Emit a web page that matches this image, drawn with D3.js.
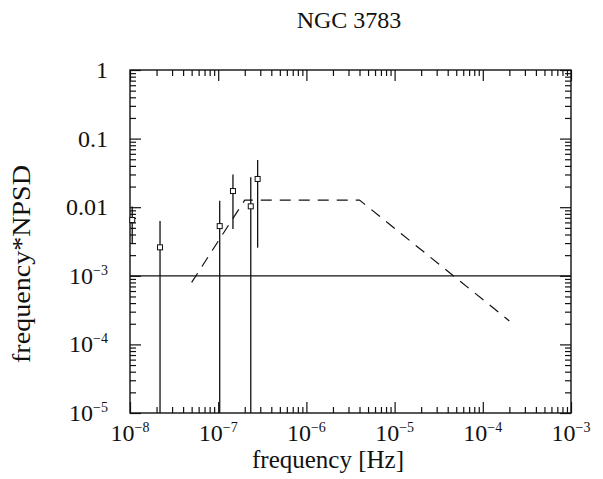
<!DOCTYPE html>
<html>
<head>
<meta charset="utf-8">
<script src="https://cdn.jsdelivr.net/npm/d3@7"></script>
<style>
  body { margin: 0; background: #fff; }
  text { font-family: "Liberation Serif", "DejaVu Serif", serif; fill: #111; }
</style>
</head>
<body>
<div id="viz"></div>
<script>

// data
const freq = [1.06e-8, 2.19e-8, 1.04e-7, 1.47e-7, 2.34e-7, 2.8e-7]
const npsd = [6.5e-3, 2.6e-3, 5.3e-3, 1.72e-2, 1.03e-2, 2.58e-2]
const errHi = [1.02e-2, 6.3e-3, 1.24e-2, 3.0e-2, 2.73e-2, 4.88e-2]
const errLo = [3.0e-3, 1e-6, 1e-6, 4.8e-3, 1e-6, 2.57e-3]   // 1e-6 = off the bottom of the plot

const modelFreq = [5.0e-8, 2.0e-7, 4.0e-6, 2.0e-4]
const modelNpsd = [8.0e-4, 1.27e-2, 1.27e-2, 2.2e-4]

const refLevel = 1e-3

const xTicks = [1e-8, 1e-7, 1e-6, 1e-5, 1e-4, 1e-3]
const xTickLabels = [["10", "−8"], ["10", "−7"], ["10", "−6"], ["10", "−5"], ["10", "−4"], ["10", "−3"]]
const yTicks = [1, 0.1, 0.01, 1e-3, 1e-4, 1e-5]
const yTickLabels = [["1", ""], ["0.1", ""], ["0.01", ""], ["10", "−3"], ["10", "−4"], ["10", "−5"]]

const width = 603
const height = 479
const margin = {top: 70, right: 32, bottom: 66, left: 130}
const w = width - margin.left - margin.right
const h = height - margin.top - margin.bottom

const svg = d3.select("#viz").append("svg")
  .attr("width", width)
  .attr("height", height)

const x = d3.scaleLog().domain([1e-8, 1e-3]).range([0, w])
const y = d3.scaleLog().domain([1e-5, 1]).range([h, 0])

const g = svg.append("g").attr("transform", `translate(${margin.left},${margin.top})`)

svg.append("defs").append("clipPath").attr("id", "clip")
  .append("rect").attr("width", w).attr("height", h)

// minor tick values (2..9 per decade)
const minorX = []
for (let e = -8; e < -3; e++) for (let m = 2; m < 10; m++) minorX.push(m * Math.pow(10, e))
const minorY = []
for (let e = -5; e < 0; e++) for (let m = 2; m < 10; m++) minorY.push(m * Math.pow(10, e))

const tickStyle = sel => {
  sel.select(".domain").remove()
  sel.selectAll("line").attr("stroke", "#111").attr("stroke-width", 1.2)
  sel.selectAll("text").remove()
}

// bottom + top
g.append("g").attr("transform", `translate(0,${h})`)
  .call(d3.axisBottom(x).tickValues(xTicks).tickSize(-11).tickFormat("")).call(tickStyle)
g.append("g").attr("transform", `translate(0,${h})`)
  .call(d3.axisBottom(x).tickValues(minorX).tickSize(-6).tickFormat("")).call(tickStyle)
g.append("g")
  .call(d3.axisTop(x).tickValues(xTicks).tickSize(-11).tickFormat("")).call(tickStyle)
g.append("g")
  .call(d3.axisTop(x).tickValues(minorX).tickSize(-6).tickFormat("")).call(tickStyle)

// left + right
g.append("g")
  .call(d3.axisLeft(y).tickValues(yTicks).tickSize(-11).tickFormat("")).call(tickStyle)
g.append("g")
  .call(d3.axisLeft(y).tickValues(minorY).tickSize(-6).tickFormat("")).call(tickStyle)
g.append("g").attr("transform", `translate(${w},0)`)
  .call(d3.axisRight(y).tickValues(yTicks).tickSize(-11).tickFormat("")).call(tickStyle)
g.append("g").attr("transform", `translate(${w},0)`)
  .call(d3.axisRight(y).tickValues(minorY).tickSize(-6).tickFormat("")).call(tickStyle)

// frame
g.append("rect")
  .attr("width", w).attr("height", h)
  .attr("fill", "none").attr("stroke", "#111").attr("stroke-width", 1.4)

// tick labels
const xl = g.selectAll(".xl").data(xTicks).enter().append("text")
  .attr("x", d => x(d))
  .attr("y", h + 28)
  .attr("text-anchor", "middle")
  .style("font-size", "24px")
xl.append("tspan").text((d, i) => xTickLabels[i][0])
xl.append("tspan").attr("dy", -9).style("font-size", "14px").text((d, i) => xTickLabels[i][1])

const yl = g.selectAll(".yl").data(yTicks).enter().append("text")
  .attr("x", -22)
  .attr("y", d => y(d) + 8)
  .attr("text-anchor", "end")
  .style("font-size", "24px")
yl.append("tspan").text((d, i) => yTickLabels[i][0])
yl.append("tspan").attr("dy", -9).style("font-size", "14px").text((d, i) => yTickLabels[i][1])

// plot contents
const plot = g.append("g").attr("clip-path", "url(#clip)")

plot.append("line")
  .attr("x1", 0).attr("x2", w)
  .attr("y1", y(refLevel)).attr("y2", y(refLevel))
  .attr("stroke", "#111").attr("stroke-width", 1.2)

const model = modelFreq.map((f, i) => [f, modelNpsd[i]])
plot.append("path")
  .datum(model)
  .attr("d", d3.line().x(d => x(d[0])).y(d => y(d[1])))
  .attr("fill", "none")
  .attr("stroke", "#111")
  .attr("stroke-width", 1.2)
  .attr("stroke-dasharray", "11,8")

plot.selectAll(".err").data(freq).enter().append("line")
  .attr("x1", d => x(d)).attr("x2", d => x(d))
  .attr("y1", (d, i) => y(errHi[i]))
  .attr("y2", (d, i) => y(errLo[i]))
  .attr("stroke", "#111").attr("stroke-width", 1.3)

g.selectAll(".pt").data(freq).enter().append("rect")
  .attr("x", d => x(d) - 2.5)
  .attr("y", (d, i) => y(npsd[i]) - 2.5)
  .attr("width", 5).attr("height", 5)
  .attr("fill", "#fff")
  .attr("stroke", "#111").attr("stroke-width", 1)

// titles
svg.append("text")
  .attr("x", 349).attr("y", 28)
  .attr("text-anchor", "middle")
  .style("font-size", "24px")
  .text("NGC 3783")

svg.append("text")
  .attr("x", 328).attr("y", 468)
  .attr("text-anchor", "middle")
  .style("font-size", "25px")
  .text("frequency [Hz]")

svg.append("text")
  .attr("transform", "translate(30,264) rotate(-90)")
  .attr("text-anchor", "middle")
  .attr("textLength", 198)
  .attr("lengthAdjust", "spacingAndGlyphs")
  .style("font-size", "26px")
  .text("frequency*NPSD")

</script>
</body>
</html>
